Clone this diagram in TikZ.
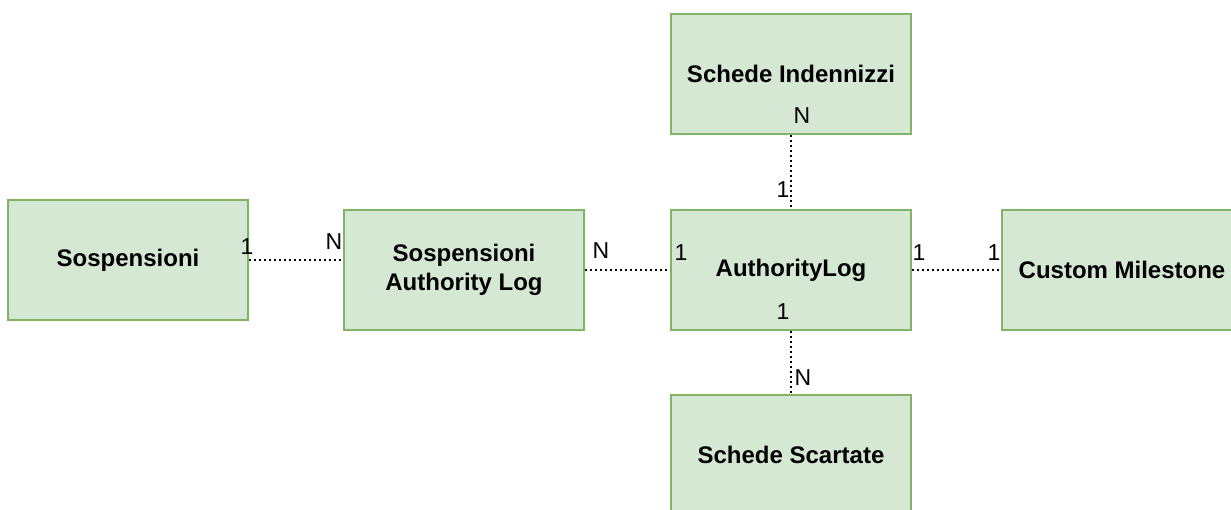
\documentclass[tikz,border=0pt]{standalone}
\usepackage{fontspec}
\setmainfont{Liberation Sans}
\definecolor{boxfill}{HTML}{D5E8D4}
\definecolor{boxline}{HTML}{82B366}
\tikzset{
  entity/.style={draw=boxline, fill=boxfill, line width=2pt, minimum width=240pt, minimum height=120pt, inner sep=0pt, align=center, font=\fontsize{24}{29}\selectfont\bfseries},
  rel/.style={line width=2pt, dash pattern=on 2pt off 3pt, draw=black},
  card/.style={inner sep=0pt, font=\fontsize{23}{26}\selectfont}
}
\begin{document}
\begin{tikzpicture}[x=1pt, y=-1pt]
\useasboundingbox (0,0) rectangle (1231,510);
\clip (0,0) rectangle (1231,510);
\node[entity] (sosp) at (128,260) {Sospensioni};
\node[entity] (sal) at (464,270) {Sospensioni\\Authority Log};
\node[entity] (al) at (791,270) {AuthorityLog};
\node[entity] (cm) at (1122,270) {Custom Milestone};
\node[entity] (si) at (791,74) {Schede Indennizzi};
\node[entity] (ss) at (791,455) {Schede Scartate};
\draw[rel] (sosp.east |- 0,260) -- (sal.west |- 0,260);
\draw[rel] (sal.east) -- (al.west);
\draw[rel] (al.east) -- (cm.west);
\draw[rel] (si.south) -- (al.north);
\draw[rel] (al.south) -- (ss.north);
\node[card] (c1) at (247,247) {1};
\node[card] (c2) at (334,242) {N};
\node[card] (c3) at (601,251) {N};
\node[card] (c4) at (681,253) {1};
\node[card] (c5) at (919,253) {1};
\node[card] (c6) at (994,253) {1};
\node[card] (c7) at (783,312) {1};
\node[card] (c8) at (802,116) {N};
\node[card] (c9) at (783,190) {1};
\node[card] (c10) at (803,378) {N};
\end{tikzpicture}
\end{document}
